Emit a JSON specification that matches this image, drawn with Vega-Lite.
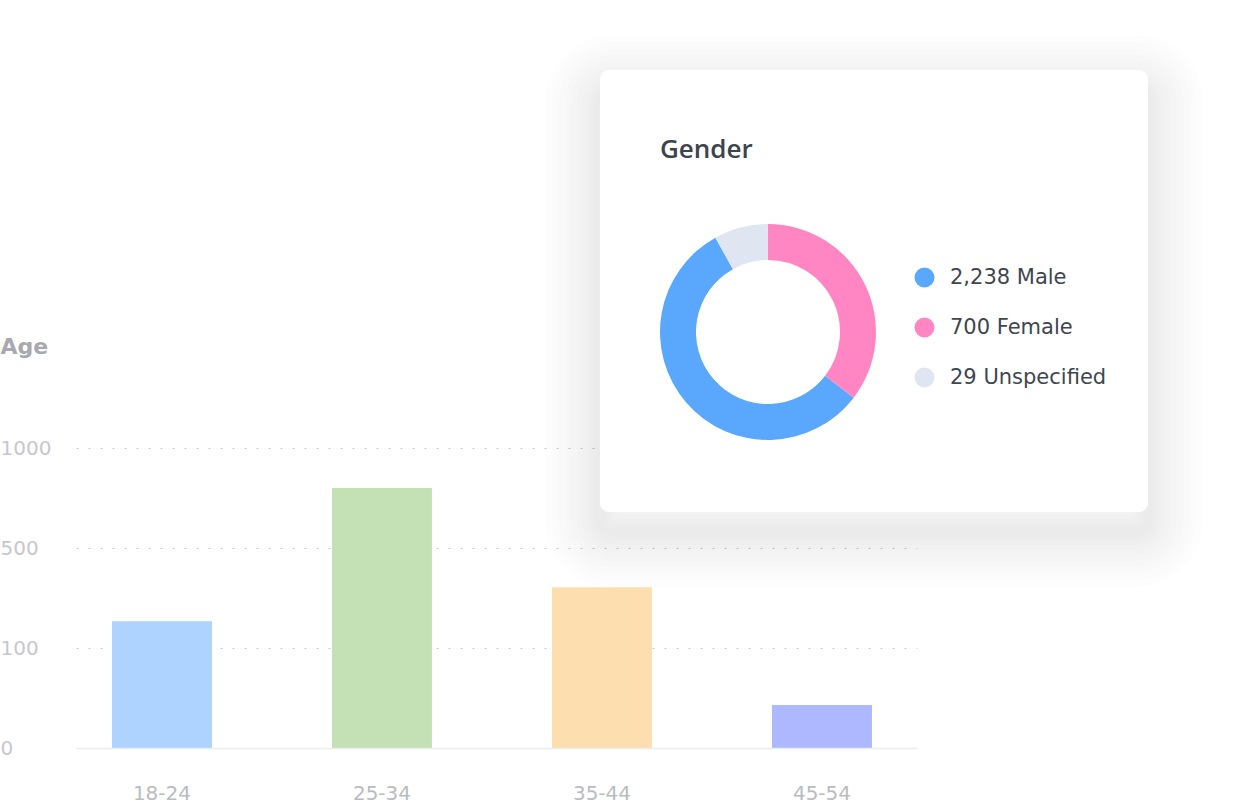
{
  "$schema": "https://vega.github.io/schema/vega-lite/v6.json",
  "width": 841,
  "height": 300,
  "autosize": {"type": "none"},
  "padding": {"left": 76, "top": 448, "right": 329, "bottom": 56},
  "background": "#ffffff",
  "config": {"view": {"stroke": null}, "font": "DejaVu Sans"},
  "datasets": {
    "ages": [
      {"age": "18-24", "people": 207},
      {"age": "25-34", "people": 800},
      {"age": "35-44", "people": 343},
      {"age": "45-54", "people": 43}
    ],
    "gender": [
      {"gender": "Male", "label": "2,238 Male", "share": 56.5},
      {"gender": "Female", "label": "700 Female", "share": 35.4},
      {"gender": "Unspecified", "label": "29 Unspecified", "share": 8.1}
    ]
  },
  "layer": [
    {
      "data": {"name": "ages"},
      "mark": {"type": "bar"},
      "encoding": {
        "x": {
          "field": "age",
          "type": "nominal",
          "sort": null,
          "title": null,
          "scale": {"paddingInner": 0.5455, "paddingOuter": 0.1841, "align": 0.444},
          "axis": {
            "labelAngle": 0,
            "ticks": false,
            "tickSize": 0,
            "labelPadding": 51,
            "labelBaseline": "alphabetic",
            "labelFont": "DejaVu Sans",
            "labelFontSize": 20,
            "labelColor": "#b9bcc0",
            "domainColor": "#ececee",
            "domainWidth": 1.5,
            "grid": false,
            "zindex": 1
          }
        },
        "y": {
          "field": "people",
          "type": "quantitative",
          "scale": {"domain": [0, 100, 500, 1000], "range": [300, 200, 100, 0]},
          "axis": {
            "values": [0, 100, 500, 1000],
            "format": "d",
            "domain": false,
            "ticks": false,
            "tickSize": 0,
            "labelAlign": "left",
            "labelBaseline": "middle",
            "labelPadding": 76,
            "labelFont": "DejaVu Sans",
            "labelFontSize": 20,
            "labelColor": "#c6c8cc",
            "grid": true,
            "gridColor": "#c8c8c8",
            "gridDash": [2, 10],
            "gridWidth": 1,
            "title": "Age",
            "titleAngle": 0,
            "titleX": -76,
            "titleY": -95,
            "titleAlign": "left",
            "titleBaseline": "alphabetic",
            "titleFont": "DejaVu Sans",
            "titleFontSize": 22,
            "titleFontWeight": "bold",
            "titleColor": "#a6a9ad"
          }
        },
        "color": {
          "field": "age",
          "type": "nominal",
          "legend": null,
          "scale": {
            "domain": ["18-24", "25-34", "35-44", "45-54"],
            "range": ["#aed3fe", "#c4e1b6", "#fddeae", "#aeb8fe"]
          }
        }
      }
    },
    {
      "data": {"values": [{}]},
      "layer": [
        {"mark": {"type": "rect", "fill": null, "stroke": "#22262c", "strokeOpacity": 0.008, "strokeWidth": 110, "cornerRadius": 12},
         "encoding": {"x": {"value": 524}, "x2": {"value": 1072}, "y": {"value": -358}, "y2": {"value": 84}}},
        {"mark": {"type": "rect", "fill": null, "stroke": "#22262c", "strokeOpacity": 0.008, "strokeWidth": 96, "cornerRadius": 12},
         "encoding": {"x": {"value": 524}, "x2": {"value": 1072}, "y": {"value": -358}, "y2": {"value": 84}}},
        {"mark": {"type": "rect", "fill": null, "stroke": "#22262c", "strokeOpacity": 0.008, "strokeWidth": 82, "cornerRadius": 12},
         "encoding": {"x": {"value": 524}, "x2": {"value": 1072}, "y": {"value": -358}, "y2": {"value": 84}}},
        {"mark": {"type": "rect", "fill": null, "stroke": "#22262c", "strokeOpacity": 0.008, "strokeWidth": 70, "cornerRadius": 12},
         "encoding": {"x": {"value": 524}, "x2": {"value": 1072}, "y": {"value": -358}, "y2": {"value": 84}}},
        {"mark": {"type": "rect", "fill": null, "stroke": "#22262c", "strokeOpacity": 0.008, "strokeWidth": 58, "cornerRadius": 12},
         "encoding": {"x": {"value": 524}, "x2": {"value": 1072}, "y": {"value": -358}, "y2": {"value": 84}}},
        {"mark": {"type": "rect", "fill": null, "stroke": "#22262c", "strokeOpacity": 0.008, "strokeWidth": 46, "cornerRadius": 12},
         "encoding": {"x": {"value": 524}, "x2": {"value": 1072}, "y": {"value": -358}, "y2": {"value": 84}}},
        {"mark": {"type": "rect", "fill": null, "stroke": "#22262c", "strokeOpacity": 0.008, "strokeWidth": 36, "cornerRadius": 12},
         "encoding": {"x": {"value": 524}, "x2": {"value": 1072}, "y": {"value": -358}, "y2": {"value": 84}}},
        {"mark": {"type": "rect", "fill": null, "stroke": "#22262c", "strokeOpacity": 0.008, "strokeWidth": 26, "cornerRadius": 12},
         "encoding": {"x": {"value": 524}, "x2": {"value": 1072}, "y": {"value": -358}, "y2": {"value": 84}}},
        {"mark": {"type": "rect", "fill": null, "stroke": "#22262c", "strokeOpacity": 0.008, "strokeWidth": 18, "cornerRadius": 12},
         "encoding": {"x": {"value": 524}, "x2": {"value": 1072}, "y": {"value": -358}, "y2": {"value": 84}}},
        {"mark": {"type": "rect", "fill": null, "stroke": "#22262c", "strokeOpacity": 0.008, "strokeWidth": 10, "cornerRadius": 12},
         "encoding": {"x": {"value": 524}, "x2": {"value": 1072}, "y": {"value": -358}, "y2": {"value": 84}}},
        {"mark": {"type": "rect", "fill": "#ffffff", "cornerRadius": 9},
         "encoding": {"x": {"value": 524}, "x2": {"value": 1072}, "y": {"value": -378}, "y2": {"value": 64}}},
        {"mark": {"type": "text", "text": "Gender", "align": "left", "baseline": "alphabetic", "font": "Open Sans", "fontSize": 26, "fontWeight": 600, "color": "#3d4450"},
         "encoding": {"x": {"value": 584}, "y": {"value": -290}}}
      ]
    },
    {
      "data": {"name": "gender"},
      "mark": {"type": "arc", "radius": 108, "innerRadius": 72},
      "encoding": {
        "x": {"value": 692},
        "y": {"value": -116},
        "theta": {"field": "share", "type": "quantitative", "stack": true},
        "order": {"field": "gender", "type": "ordinal", "sort": "ascending"},
        "color": {
          "field": "label",
          "type": "nominal",
          "scale": {
            "domain": ["2,238 Male", "700 Female", "29 Unspecified"],
            "range": ["#5aa8fe", "#ff86c2", "#dfe6f2"]
          },
          "legend": {
            "orient": "none",
            "legendX": 838,
            "legendY": -181,
            "padding": 0,
            "title": null,
            "symbolType": "circle",
            "symbolSize": 400,
            "symbolStrokeWidth": 0,
            "symbolOpacity": 1,
            "labelFont": "DejaVu Sans",
            "labelFontSize": 21,
            "labelColor": "#3e4652",
            "labelOffset": 15,
            "rowPadding": 28,
            "labelLimit": 300
          }
        }
      }
    }
  ],
  "resolve": {"scale": {"color": "independent"}}
}
